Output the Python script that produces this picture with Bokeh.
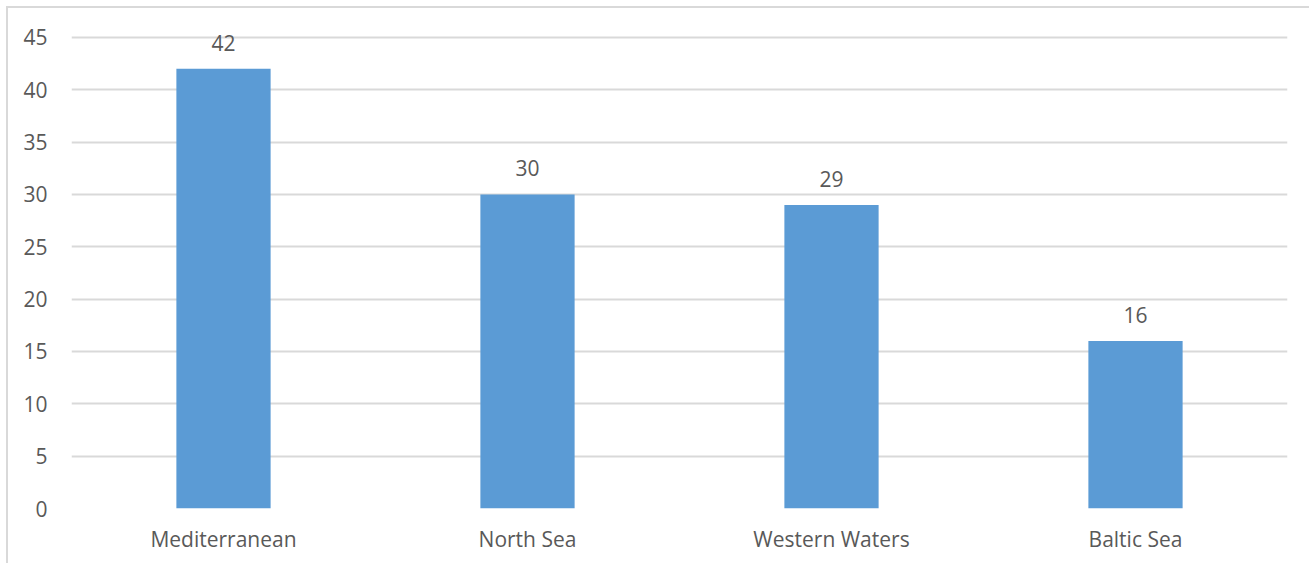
from bokeh.plotting import figure
from bokeh.models import ColumnDataSource, FixedTicker
from bokeh.core.properties import value
from bokeh.embed import file_html
from bokeh.resources import INLINE

categories = ["Mediterranean", "North Sea", "Western Waters", "Baltic Sea"]
counts = [42, 30, 29, 16]
y_ticks = [0, 5, 10, 15, 20, 25, 30, 35, 40, 45]

FONT = "Open Sans"
TEXT = "#595959"
GRID = "#D9D9D9"

src = ColumnDataSource(dict(cat=categories, val=counts, lab=[str(v) for v in counts]))

p = figure(x_range=categories, y_range=(0, 47), width=1303, height=557,
           output_backend="svg", toolbar_location=None,
           min_border_left=63, min_border_right=24, min_border_top=8, min_border_bottom=57)
p.styles = {"border-top": "2px solid #D9D9D9", "border-left": "2px solid #D9D9D9",
            "margin-top": "6px", "margin-left": "6px"}
p.outline_line_color = None
p.background_fill_color = "white"
p.border_fill_color = "white"

p.vbar(x="cat", top="val", width=0.31, source=src, color="#5B9BD5", line_color=None)
p.text(x="cat", y="val", text="lab", source=src, text_align="center", text_baseline="bottom",
       y_offset=-18, text_font=value(FONT), text_font_size="21px", text_color=TEXT)

p.yaxis.ticker = FixedTicker(ticks=y_ticks)
for ax in (p.xaxis[0], p.yaxis[0]):
    ax.axis_line_color = None
    ax.major_tick_line_color = None
    ax.minor_tick_line_color = None
    ax.major_label_text_font = FONT
    ax.major_label_text_font_size = "21px"
    ax.major_label_text_color = TEXT
p.yaxis.major_label_standoff = 18
p.xaxis.major_label_standoff = 10

p.xgrid.grid_line_color = None
p.ygrid.grid_line_color = GRID
p.ygrid.grid_line_width = 2
p.ygrid.ticker = FixedTicker(ticks=y_ticks)

open("out.html", "w").write(file_html(p, INLINE))
